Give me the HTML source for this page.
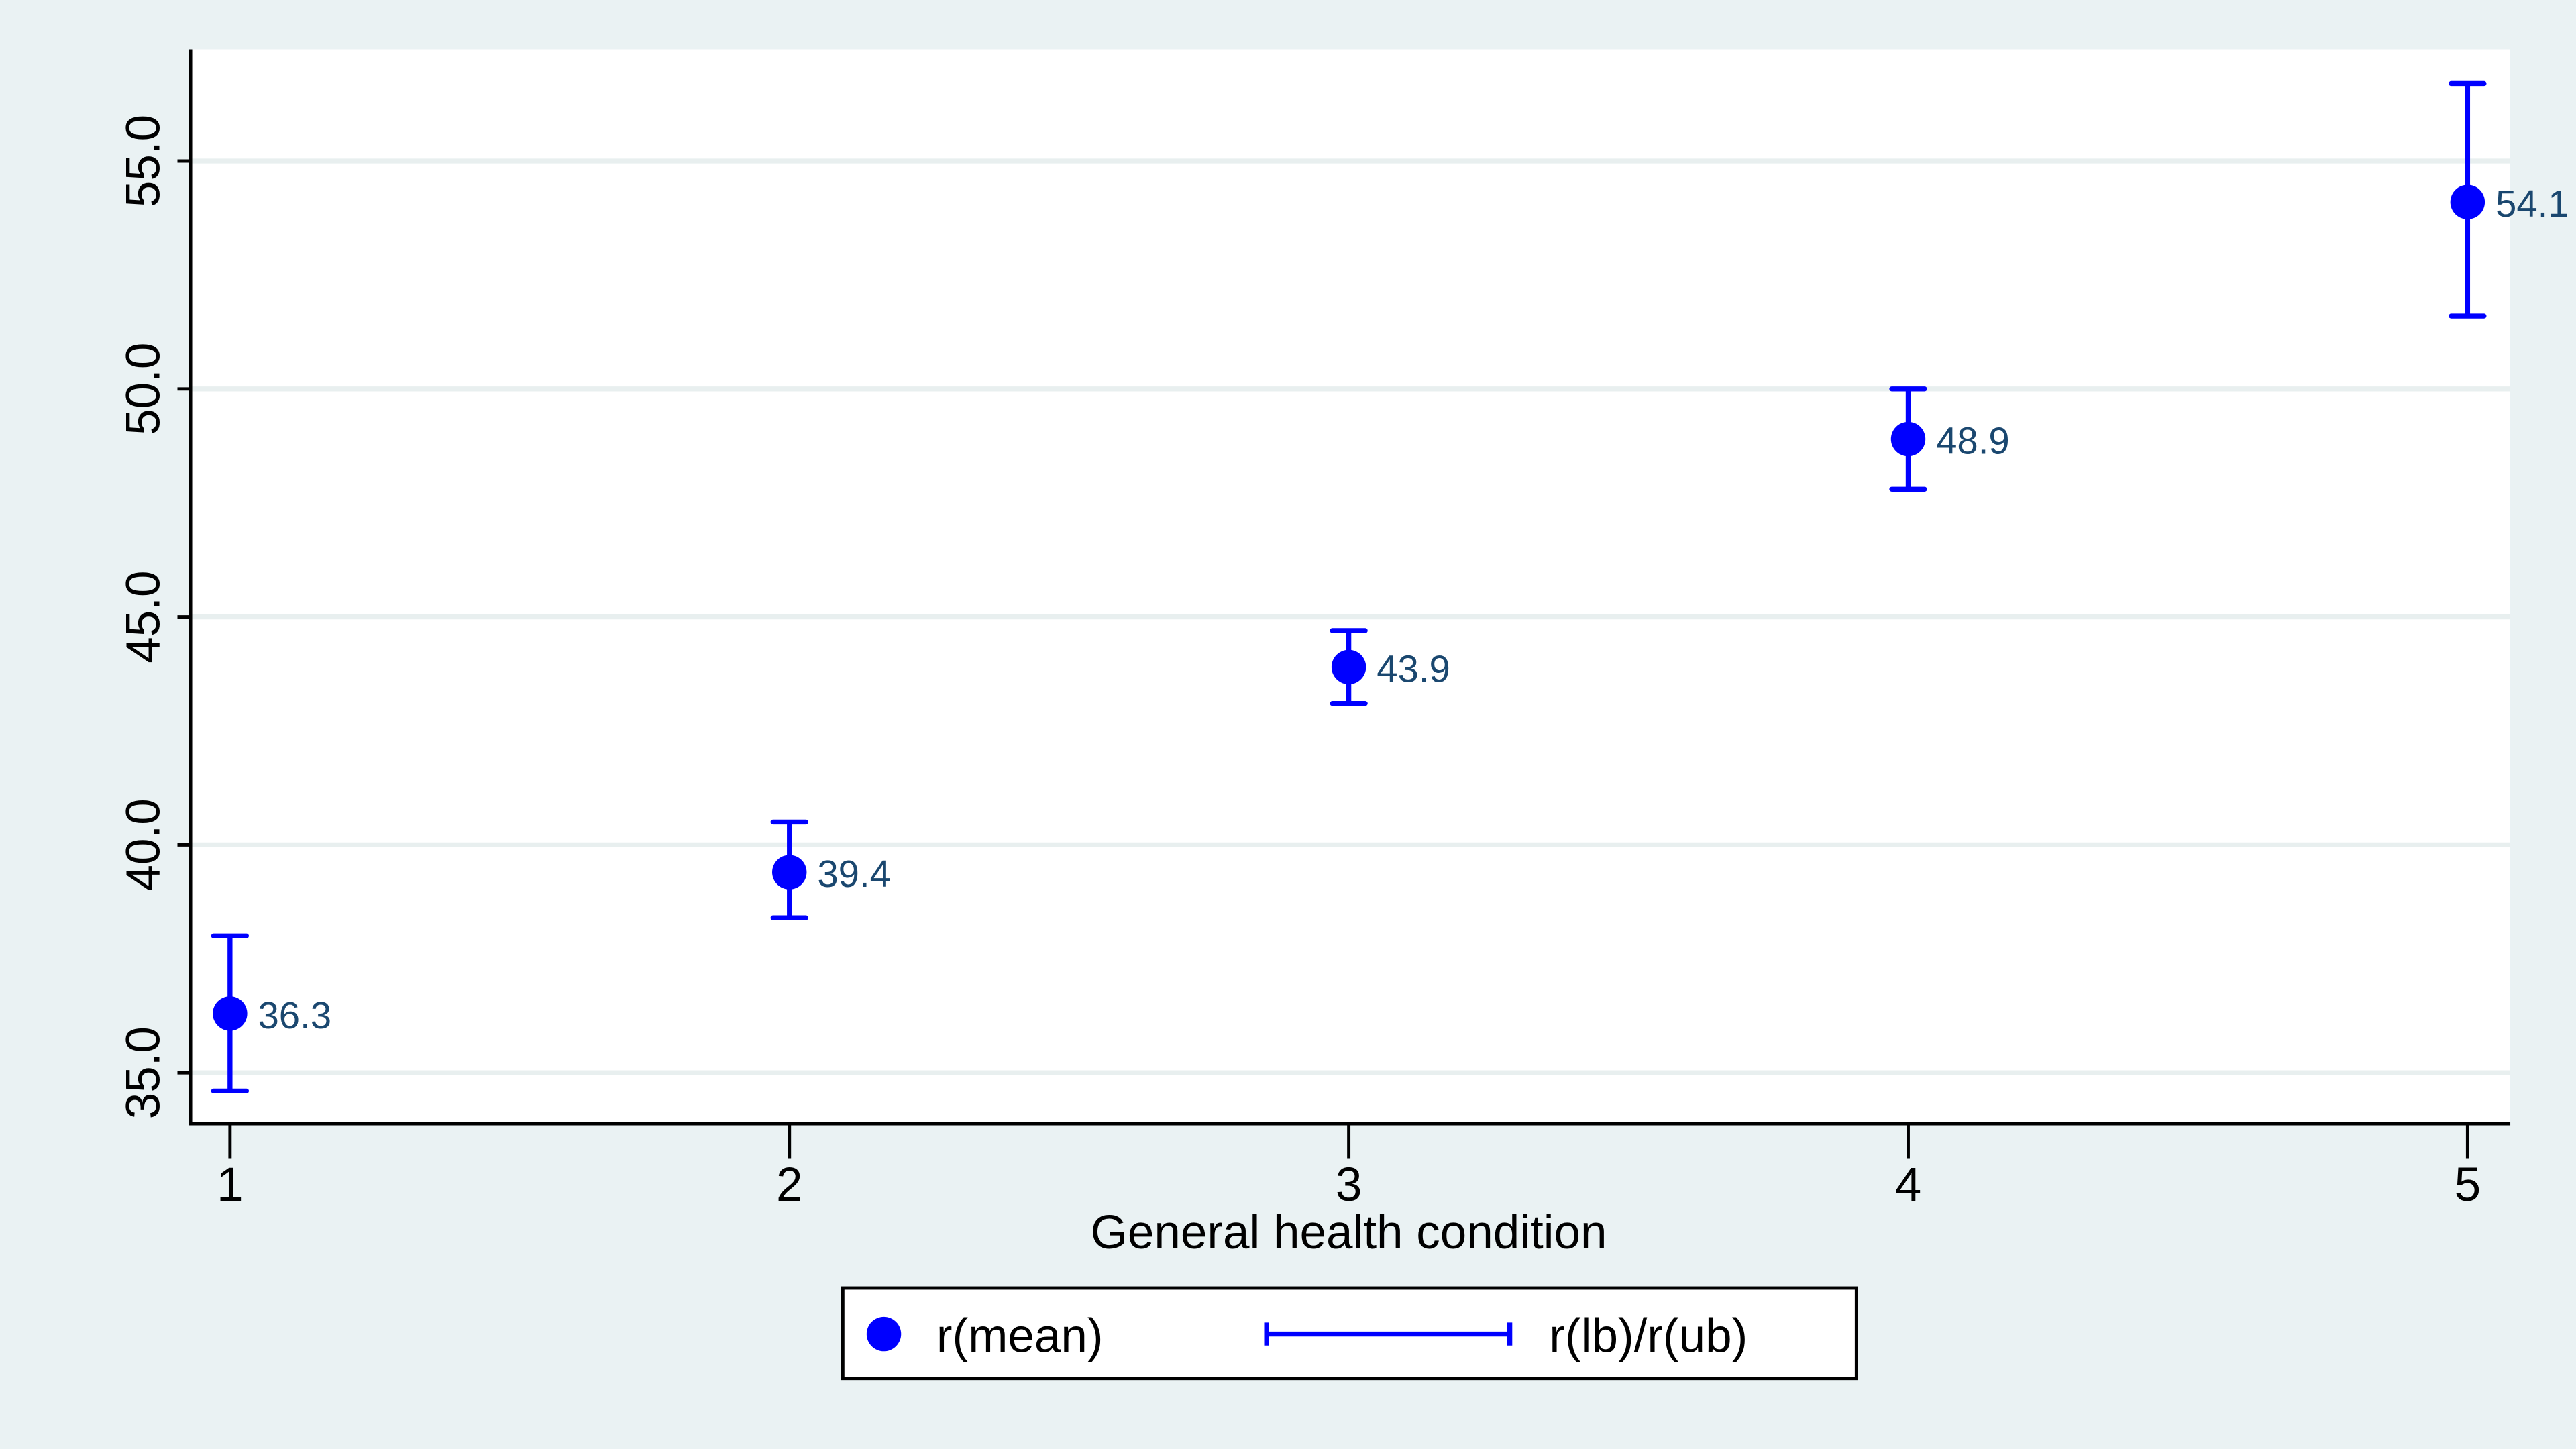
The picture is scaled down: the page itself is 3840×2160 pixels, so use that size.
<!DOCTYPE html>
<html><head><meta charset="utf-8"><style>
html,body{margin:0;padding:0;background:#eaf2f3;}
svg{display:block;font-family:"Liberation Sans",Arial,sans-serif;}
</style></head><body>
<svg id="chart" width="3840" height="2160" viewBox="0 0 1568 882" xmlns="http://www.w3.org/2000/svg">
<rect x="0" y="0" width="1568" height="882" fill="#eaf2f3"/>
<rect x="116" y="30" width="1412" height="654" fill="#ffffff"/>
<g id="grid"></g>
<g id="marks"></g>
<line x1="116" y1="30" x2="116" y2="685" stroke="#000" stroke-width="2"/>
<line x1="115" y1="684" x2="1528" y2="684" stroke="#000" stroke-width="2"/>
<g id="axes"></g>
<text x="821" y="760" font-size="29" text-anchor="middle" fill="#000">General health condition</text>
<g>
<rect x="513" y="784" width="617" height="55" fill="#fff" stroke="#000" stroke-width="2"/>
<circle cx="538" cy="812" r="10.5" fill="#0000ff"/>
<text x="570" y="823" font-size="29" fill="#000">r(mean)</text>
<line x1="771" y1="812" x2="919" y2="812" stroke="#0000ff" stroke-width="3"/>
<line x1="771" y1="805" x2="771" y2="819" stroke="#0000ff" stroke-width="3"/>
<line x1="919" y1="805" x2="919" y2="819" stroke="#0000ff" stroke-width="3"/>
<text x="943" y="823" font-size="29" fill="#000">r(lb)/r(ub)</text>
</g>
</svg>
<script>
const categories = [1, 2, 3, 4, 5];
const means = [36.3, 39.4, 43.9, 48.9, 54.1];
const lower = [34.6, 38.4, 43.1, 47.8, 51.6];
const upper = [38.0, 40.5, 44.7, 50.0, 56.7];
const yTicks = [35, 40, 45, 50, 55];
const yTickLabels = ["35.0", "40.0", "45.0", "50.0", "55.0"];
const xTickLabels = ["1", "2", "3", "4", "5"];

const NS = "http://www.w3.org/2000/svg";
function xs(v){ return 140 + (v - 1) * (1502 - 140) / 4; }
function ys(v){ return 653 - (v - 35) * (653 - 98) / 20; }
function mk(tag, attrs, parent){
  const e = document.createElementNS(NS, tag);
  for (const k in attrs) e.setAttribute(k, attrs[k]);
  parent.appendChild(e); return e;
}
const grid = document.getElementById('grid');
const axes = document.getElementById('axes');
const marks = document.getElementById('marks');

yTicks.forEach((t, i) => {
  const y = ys(t);
  const g = mk('line', {x1:117, x2:1528, y1:y, y2:y, stroke:'#e8efef', 'stroke-width':3}, grid);
  
  
  const tk = mk('line', {x1:108, x2:116, y1:y, y2:y, stroke:'#000', 'stroke-width':2}, axes);
  
  
  const tx = mk('text', {x:0, y:0, 'font-size':29, 'text-anchor':'middle', fill:'#000', transform:`translate(97 ${y}) rotate(-90)`}, axes);
  tx.textContent = yTickLabels[i];
  
  
});
categories.forEach((c, i) => {
  const x = xs(c);
  const tk = mk('line', {x1:x, x2:x, y1:684, y2:705, stroke:'#000', 'stroke-width':2}, axes);
  
  
  const tx = mk('text', {x:x, y:731, 'font-size':29, 'text-anchor':'middle', fill:'#000'}, axes);
  tx.textContent = xTickLabels[i];
  
  

  const yl = ys(lower[i]), yu = ys(upper[i]), ym = ys(means[i]);
  const el = mk('line', {x1:x, x2:x, y1:yu, y2:yl, stroke:'#0000ff', 'stroke-width':3}, marks);
  
  
  [yu, yl].forEach(yy => {
    const cap = mk('line', {x1:x-10, x2:x+10, y1:yy, y2:yy, stroke:'#0000ff', 'stroke-width':3, 'stroke-linecap':'round'}, marks);
    
    
  });
  const pt = mk('circle', {cx:x, cy:ym, r:10.5, fill:'#0000ff'}, marks);
  
  
  const lb = mk('text', {x:x+17, y:ym+9, 'font-size':23, fill:'#1a476f'}, marks);
  lb.textContent = means[i].toFixed(1);
  
  
});
</script>
</body></html>
